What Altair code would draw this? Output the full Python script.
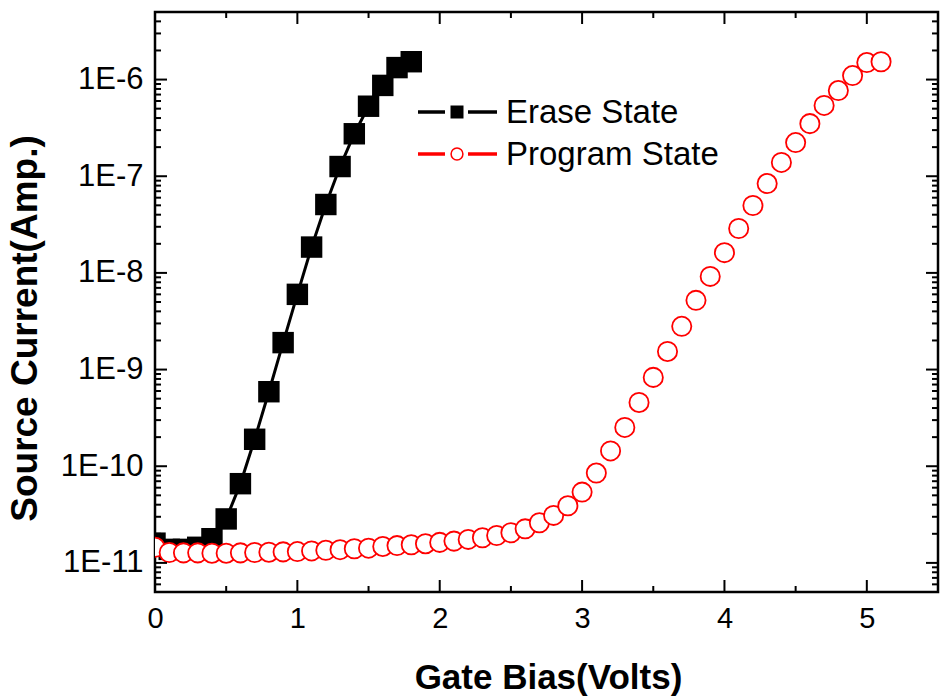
import altair as alt
import pandas as pd

# ---- data ----
series = ["Erase State", "Program State"]

erase_x = [0.0, 0.1, 0.2, 0.3, 0.4, 0.5, 0.6, 0.7, 0.8, 0.9, 1.0,
           1.1, 1.2, 1.3, 1.4, 1.5, 1.6, 1.7, 1.8]
erase_y = [1.6e-11, 1.38e-11, 1.38e-11, 1.45e-11, 1.78e-11, 2.85e-11, 6.6e-11,
           1.9e-10, 5.9e-10, 1.9e-9, 6.0e-9, 1.85e-8, 5.1e-8, 1.26e-7,
           2.75e-7, 5.3e-7, 8.7e-7, 1.33e-6, 1.53e-6]

program_x = [0.0, 0.1, 0.2, 0.3, 0.4, 0.5, 0.6, 0.7, 0.8, 0.9, 1.0,
             1.1, 1.2, 1.3, 1.4, 1.5, 1.6, 1.7, 1.8, 1.9, 2.0,
             2.1, 2.2, 2.3, 2.4, 2.5, 2.6, 2.7, 2.8, 2.9, 3.0,
             3.1, 3.2, 3.3, 3.4, 3.5, 3.6, 3.7, 3.8, 3.9, 4.0,
             4.1, 4.2, 4.3, 4.4, 4.5, 4.6, 4.7, 4.8, 4.9, 5.0, 5.1]
program_y = [1.45e-11, 1.28e-11, 1.27e-11, 1.27e-11, 1.26e-11, 1.26e-11,
             1.27e-11, 1.28e-11, 1.29e-11, 1.30e-11, 1.31e-11,
             1.33e-11, 1.35e-11, 1.37e-11, 1.40e-11, 1.42e-11,
             1.48e-11, 1.51e-11, 1.54e-11, 1.58e-11, 1.63e-11,
             1.68e-11, 1.75e-11, 1.82e-11, 1.92e-11, 2.05e-11,
             2.25e-11, 2.6e-11, 3.1e-11, 3.9e-11, 5.4e-11,
             8.5e-11, 1.44e-10, 2.52e-10, 4.57e-10, 8.3e-10,
             1.54e-9, 2.8e-9, 5.2e-9, 9.2e-9, 1.62e-8,
             2.88e-8, 4.98e-8, 8.4e-8, 1.39e-7, 2.23e-7,
             3.5e-7, 5.4e-7, 7.7e-7, 1.1e-6, 1.5e-6, 1.53e-6]

x_tick_values = [0, 1, 2, 3, 4, 5]
x_minor_values = [0.5, 1.5, 2.5, 3.5, 4.5]
y_tick_values = [1e-11, 1e-10, 1e-9, 1e-8, 1e-7, 1e-6]
y_minor_values = [k * 10.0 ** e for e in range(-12, -5) for k in range(2, 10)
                  if 5e-12 <= k * 10.0 ** e <= 5e-6]

# ---- layout ----
W, H = 783, 580
FONT = "Liberation Sans"
MAJ, MIN = 12, 6

xs = alt.Scale(domain=[0, 5.5], nice=False, zero=False)
ys = alt.Scale(type="log", domain=[5e-12, 5e-6], nice=False)

x_axis = alt.Axis(title="Gate Bias(Volts)", values=x_tick_values, ticks=False,
                  domain=False, grid=False, labelFont=FONT, labelFontSize=29,
                  labelColor="black", labelPadding=12, labelFlush=False,
                  titleFont=FONT, titleFontSize=35, titleFontWeight="bold",
                  titleColor="black", titleBaseline="alphabetic",
                  titleX=393, titleY=96, titleAlign="center")
y_axis = alt.Axis(title="Source Current(Amp.)", values=y_tick_values, ticks=False,
                  domain=False, grid=False, labelFont=FONT, labelFontSize=31,
                  labelColor="black", labelPadding=12, labelFlush=False,
                  labelExpr="'1E' + round(log(datum.value) / LN10)",
                  titleFont=FONT, titleFontSize=37, titleFontWeight="bold",
                  titleColor="black", titleBaseline="alphabetic",
                  titleAngle=270, titleAlign="center", titleX=-119, titleY=316)

def X(field):
    return alt.X(field, scale=xs, axis=x_axis)

def Y(field):
    return alt.Y(field, scale=ys, axis=y_axis)

erase_df = pd.DataFrame({"v": erase_x, "i": erase_y, "s": series[0]})
prog_df = pd.DataFrame({"v": program_x, "i": program_y, "s": series[1]})

erase_line = alt.Chart(erase_df).mark_line(color="black", strokeWidth=3, clip=True).encode(
    x=X("v:Q"), y=Y("i:Q"))
erase_pts = alt.Chart(erase_df).mark_point(
    shape="square", filled=True, color="black", size=460, opacity=1, clip=True
).encode(x=X("v:Q"), y=Y("i:Q"))

prog_pts = alt.Chart(prog_df).mark_point(
    shape="circle", filled=True, fill="white", stroke="red", strokeWidth=1.8,
    size=370, opacity=1, fillOpacity=1, clip=True
).encode(x=X("v:Q"), y=Y("i:Q"))

# ---- inward ticks on all four sides ----
def xticks(vals, length):
    df = pd.DataFrame({"v": vals})
    bottom = alt.Chart(df).mark_rule(color="black", strokeWidth=2).encode(
        x=X("v:Q"), y=alt.value(H), y2=alt.value(H - length))
    top = alt.Chart(df).mark_rule(color="black", strokeWidth=2).encode(
        x=X("v:Q"), y=alt.value(0), y2=alt.value(length))
    return [bottom, top]

def yticks(vals, length):
    df = pd.DataFrame({"i": vals})
    left = alt.Chart(df).mark_rule(color="black", strokeWidth=2).encode(
        y=Y("i:Q"), x=alt.value(0), x2=alt.value(length))
    right = alt.Chart(df).mark_rule(color="black", strokeWidth=2).encode(
        y=Y("i:Q"), x=alt.value(W), x2=alt.value(W - length))
    return [left, right]

ticks = (xticks(x_tick_values, MAJ) + xticks(x_minor_values, MIN)
         + yticks(y_tick_values, MAJ) + yticks(y_minor_values, MIN))

# ---- legend ----
one = pd.DataFrame({"t": [0]})
def legend_row(yc, name, marker):
    seg1 = alt.Chart(one).mark_rule(color=marker["line"], strokeWidth=3.5).encode(
        x=alt.value(263), x2=alt.value(290), y=alt.value(yc))
    seg2 = alt.Chart(one).mark_rule(color=marker["line"], strokeWidth=3.5).encode(
        x=alt.value(313), x2=alt.value(342), y=alt.value(yc))
    mk = alt.Chart(one).mark_point(opacity=1, filled=True, **marker["mk"]).encode(
        x=alt.value(302), y=alt.value(yc))
    txt = alt.Chart(pd.DataFrame({"t": [name]})).mark_text(
        align="left", baseline="middle", font=FONT, fontSize=33, color="black"
    ).encode(text="t:N", x=alt.value(351), y=alt.value(yc + 1))
    return [seg1, seg2, mk, txt]

legend = (legend_row(100, series[0], {"line": "black",
                                      "mk": dict(shape="square", color="black", size=169)})
          + legend_row(142, series[1], {"line": "red",
                                        "mk": dict(shape="circle", fill="white", stroke="red",
                                                   strokeWidth=1.5, size=140, fillOpacity=1)}))

chart = alt.layer(erase_line, erase_pts, prog_pts, *ticks, *legend).properties(
    width=W, height=H,
    autosize=alt.AutoSizeParams(type="none"),
    padding={"left": 155, "top": 12, "right": 2, "bottom": 108},
    background="white",
).configure_view(stroke="black", strokeWidth=2.5)

chart.save("out.html", embed_options={"renderer": "svg", "actions": False})
